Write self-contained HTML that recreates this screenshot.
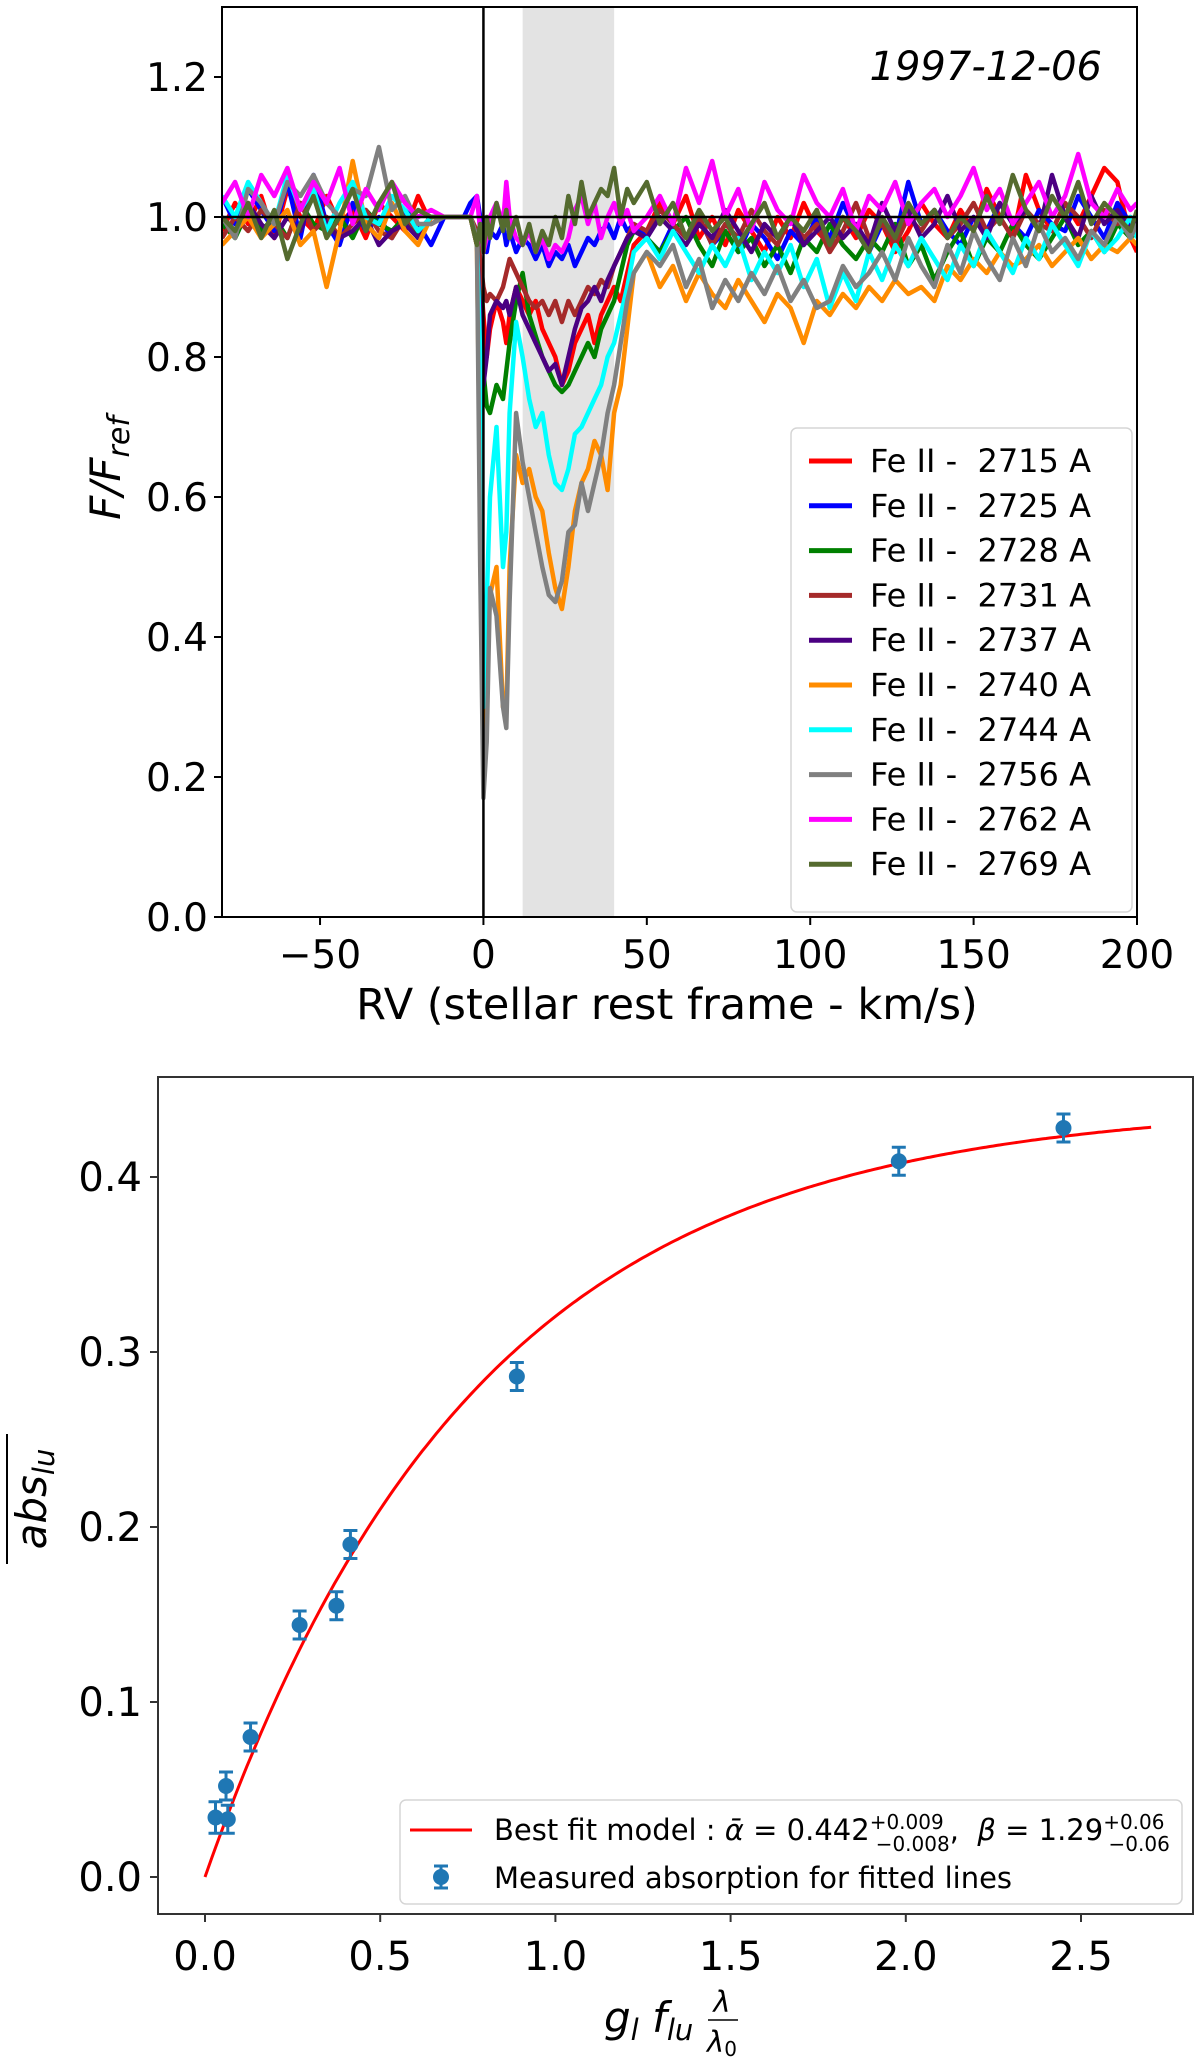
<!DOCTYPE html>
<html><head><meta charset="utf-8"><style>
html,body{margin:0;padding:0;background:#fff;}
svg{display:block;font-family:"DejaVu Sans","Liberation Sans",sans-serif;}
</style></head><body>
<svg id="fig" width="1200" height="2061" viewBox="0 0 1200 2061" xmlns="http://www.w3.org/2000/svg">
<defs>
<clipPath id="clipTop"><rect x="222" y="7" width="915" height="910"/></clipPath>
</defs>
<g id="topPanel"></g>
<g id="botPanel"></g>
</svg>
<script>
// ---------- TOP CHART DATA ----------
const rvPre = [-80,-76,-72,-68,-64,-60,-56,-52,-48,-44,-40,-36,-32,-28,-24,-20,-16];
const rvFlat = [-12,-6];
const rvAbs = [-4,-2,-1,0,1,2,4,6,7,8,10,12,14,16,18,20,22,24,26,28,30,32,34,36,38,40,42,44,46];
const rvPost = [50,54,58,62,66,70,74,78,82,86,90,94,98,102,106,110,114,118,122,126,130,134,138,142,146,150,154,158,162,166,170,174,178,182,186,190,194,198,200];
const lineLabels = ["Fe II -  2715 A","Fe II -  2725 A","Fe II -  2728 A","Fe II -  2731 A","Fe II -  2737 A","Fe II -  2740 A","Fe II -  2744 A","Fe II -  2756 A","Fe II -  2762 A","Fe II -  2769 A"];
const lineColors = ["#ff0000","#0000ff","#008000","#a52a2a","#4b0082","#ff8c00","#00ffff","#808080","#ff00ff","#556b2f"];
const flux2715 = [0.98,1.02,0.99,1.03,0.97,1.04,1.00,0.98,1.03,0.99,1.01,0.97,1.02,1.00,0.98,1.03,0.99, 1,1,
 1.00,0.97,0.92,0.86,0.80,0.84,0.88,0.85,0.82,0.86,0.90,0.88,0.86,0.88,0.84,0.82,0.80,0.76,0.78,0.82,0.84,0.86,0.82,0.86,0.88,0.90,0.88,0.92,0.96,
 0.98,1.02,0.99,1.03,0.97,1.00,0.96,1.01,0.98,0.95,1.00,0.97,1.02,0.98,0.96,1.00,0.97,1.01,0.99,0.95,0.98,1.02,0.99,0.97,1.01,0.98,1.04,1.00,0.97,1.06,1.01,0.98,1.02,0.99,1.03,1.07,1.05,0.97,0.95];
const flux2725 = [1.03,0.99,1.04,1.01,0.98,1.05,0.97,1.06,0.99,0.96,1.02,0.98,1.00,0.97,1.01,0.99,0.96, 1,1,
 1.02,1.03,1.00,0.96,0.95,0.98,0.97,0.99,0.96,0.98,0.95,0.97,0.96,0.94,0.96,0.93,0.95,0.94,0.96,0.93,0.95,0.97,0.96,0.98,0.99,0.97,1.00,0.98,0.99,
 0.97,0.95,0.99,0.97,1.00,0.96,0.98,0.95,0.99,0.97,0.94,0.98,0.96,1.00,0.97,1.02,0.98,0.95,0.99,0.97,1.05,0.99,1.01,0.98,0.96,1.00,0.98,1.02,0.99,0.97,1.01,0.99,0.98,1.03,1.00,0.97,1.02,0.99,1.00];
const flux2728 = [0.99,0.97,1.01,0.98,1.00,0.97,1.02,0.99,0.98,1.00,0.97,1.01,0.99,0.98,1.00,0.97,1.00, 1,1,
 1.00,0.96,0.88,0.78,0.73,0.72,0.76,0.74,0.78,0.82,0.88,0.92,0.86,0.83,0.80,0.78,0.76,0.75,0.76,0.78,0.80,0.82,0.80,0.84,0.86,0.88,0.92,0.96,0.98,
 0.97,0.95,0.98,1.00,0.96,0.93,0.98,0.95,0.97,0.93,0.96,0.92,0.97,0.95,0.99,0.96,0.94,0.97,0.95,0.99,0.93,0.96,0.91,0.95,0.98,0.93,0.97,0.95,0.99,0.96,0.94,0.97,1.00,0.96,0.98,0.95,0.99,0.97,0.98];
const flux2731 = [0.97,1.00,0.98,1.01,0.99,0.97,1.02,0.98,1.00,0.97,0.99,1.01,0.98,0.97,1.00,0.98,1.00, 1,1,
 1.00,0.98,0.94,0.90,0.88,0.89,0.88,0.90,0.92,0.94,0.92,0.90,0.88,0.87,0.88,0.86,0.88,0.85,0.88,0.86,0.88,0.90,0.89,0.91,0.90,0.93,0.95,0.97,0.99,
 0.98,1.01,0.99,0.97,1.00,0.96,0.99,0.97,1.01,0.98,0.96,1.00,0.97,0.99,0.95,0.98,1.02,0.97,0.99,0.96,1.00,0.98,1.01,0.97,0.99,1.02,0.98,1.00,0.97,1.01,0.99,0.98,1.02,1.00,0.97,1.01,0.99,1.00,0.98];
const flux2737 = [1.00,0.98,1.02,0.99,0.97,1.00,0.98,1.04,0.99,0.97,0.98,1.00,0.96,0.98,0.99,0.97,1.00, 1,1,
 1.00,0.96,0.86,0.76,0.80,0.86,0.88,0.87,0.88,0.86,0.90,0.86,0.84,0.82,0.80,0.78,0.79,0.76,0.80,0.84,0.87,0.88,0.90,0.88,0.91,0.93,0.95,0.97,0.98,
 0.97,1.00,0.98,0.96,0.99,0.97,1.01,0.98,0.95,0.99,0.97,1.00,0.96,0.98,1.00,0.97,0.99,0.96,1.02,0.98,1.01,0.97,0.99,1.03,0.98,1.00,0.97,1.02,0.99,1.01,0.98,1.06,1.00,0.97,1.03,0.99,1.01,0.98,1.00];
const flux2740 = [0.96,0.98,1.00,0.97,0.99,1.01,0.96,0.98,0.90,0.98,1.08,0.99,0.97,1.02,0.98,0.96,1.00, 1,1,
 1.00,0.96,0.60,0.21,0.35,0.46,0.50,0.30,0.29,0.50,0.66,0.62,0.64,0.60,0.58,0.52,0.47,0.44,0.50,0.58,0.62,0.64,0.68,0.66,0.61,0.72,0.76,0.84,0.92,
 0.95,0.90,0.93,0.88,0.92,0.89,0.87,0.91,0.88,0.85,0.89,0.87,0.82,0.88,0.86,0.89,0.87,0.90,0.88,0.91,0.89,0.90,0.88,0.93,0.91,0.94,0.92,0.95,0.93,0.94,0.96,0.93,0.95,0.97,0.94,0.96,0.95,0.97,0.96];
const flux2744 = [1.03,1.00,1.05,1.02,0.99,1.06,1.01,1.04,0.98,1.02,1.05,1.00,0.99,1.03,1.01,0.98,1.00, 1,1,
 1.00,0.97,0.80,0.30,0.45,0.60,0.70,0.50,0.55,0.72,0.85,0.80,0.74,0.70,0.72,0.66,0.62,0.61,0.64,0.69,0.70,0.72,0.74,0.76,0.80,0.82,0.86,0.90,0.95,
 0.97,0.94,0.98,0.95,0.92,0.96,0.93,0.97,0.91,0.95,0.92,0.96,0.90,0.94,0.87,0.92,0.88,0.95,0.91,0.96,0.93,0.97,0.94,0.91,0.96,0.93,0.98,0.95,0.92,0.97,0.94,0.99,0.96,0.93,0.98,0.95,0.97,1.00,0.97];
const flux2756 = [1.00,0.97,1.04,1.02,0.99,1.05,1.03,1.06,1.02,1.00,1.04,1.03,1.10,1.01,1.03,0.99,0.99, 1,1,
 1.00,0.97,0.50,0.17,0.25,0.47,0.43,0.30,0.27,0.45,0.72,0.65,0.60,0.55,0.50,0.46,0.45,0.48,0.55,0.56,0.62,0.58,0.62,0.66,0.72,0.76,0.82,0.88,0.92,
 0.95,0.93,0.96,0.90,0.94,0.87,0.91,0.88,0.92,0.89,0.93,0.88,0.91,0.87,0.88,0.93,0.90,0.92,0.95,0.91,0.97,0.93,0.90,0.96,0.92,0.98,0.94,0.91,0.97,0.93,0.99,0.95,0.97,0.94,0.98,0.96,1.00,0.97,0.99];
const flux2762 = [1.02,1.05,1.00,1.06,1.03,1.07,1.01,1.05,1.02,1.07,0.99,1.04,1.01,1.05,1.02,1.00,1.01, 1,1,
 1.00,1.03,0.98,0.95,0.97,1.00,1.02,0.99,1.05,1.00,0.97,0.96,0.98,0.95,0.97,0.94,0.96,0.95,0.97,1.01,1.03,0.99,1.02,0.97,1.00,1.02,0.99,1.01,0.98,
 1.00,1.03,0.99,1.07,1.02,1.08,1.00,1.04,0.98,1.05,1.01,0.99,1.06,1.02,1.00,1.04,0.98,1.03,1.01,1.05,0.99,1.02,1.04,1.00,1.03,1.07,1.01,1.04,0.99,1.02,1.05,1.00,1.03,1.09,1.02,1.00,1.04,1.01,1.02];
const flux2769 = [1.00,0.98,1.02,0.97,1.01,0.94,0.99,1.03,0.97,1.00,1.04,0.98,1.02,1.05,0.99,1.01,1.00, 1,1,
 1.00,0.96,0.99,0.95,1.00,0.97,1.02,0.98,1.01,0.97,1.00,0.96,0.99,0.95,0.98,0.96,1.00,0.97,1.03,0.99,1.05,1.00,1.02,1.04,1.03,1.07,1.00,1.04,1.02,
 1.05,0.99,1.02,0.97,1.01,0.98,1.00,0.96,0.99,1.02,0.97,1.00,0.98,1.01,0.96,1.00,0.98,0.95,1.00,0.97,1.02,0.99,1.01,0.97,1.00,0.98,1.03,0.99,1.06,1.01,0.98,1.03,1.00,1.05,0.99,1.02,1.00,0.98,1.01];
const fluxSeries = [flux2715,flux2725,flux2728,flux2731,flux2737,flux2740,flux2744,flux2756,flux2762,flux2769];
const rvTicks = [-50,0,50,100,150,200];
const rvTickLabels = ["\u221250","0","50","100","150","200"];
const fluxTicks = [0,0.2,0.4,0.6,0.8,1.0,1.2];
const fluxTickLabels = ["0.0","0.2","0.4","0.6","0.8","1.0","1.2"];
const shadeRange = [12,40];

// ---------- BOTTOM CHART DATA ----------
const gfX = [0.03,0.06,0.065,0.13,0.27,0.375,0.415,0.89,1.98,2.45];
const absY = [0.034,0.052,0.033,0.080,0.144,0.155,0.190,0.286,0.409,0.428];
const absErr = [0.009,0.008,0.008,0.008,0.008,0.008,0.008,0.008,0.008,0.008];
const fitAlpha = [0.442];
const fitBeta = [1.29];
const gfTicks = [0,0.5,1.0,1.5,2.0,2.5];
const gfTickLabels = ["0.0","0.5","1.0","1.5","2.0","2.5"];
const absTicks = [0,0.1,0.2,0.3,0.4];
const absTickLabels = ["0.0","0.1","0.2","0.3","0.4"];

const SVGNS="http://www.w3.org/2000/svg";
function mk(tag, attrs, parent){const e=document.createElementNS(SVGNS,tag);for(const k in attrs)e.setAttribute(k,attrs[k]);parent.appendChild(e);return e;}

(function(){
const T={L:222,R:1137,Tp:7,B:917,x0:-80,x1:200,y0:0,y1:1.3};
const tx=v=>T.L+(v-T.x0)/(T.x1-T.x0)*(T.R-T.L);
const ty=v=>T.B-(v-T.y0)/(T.y1-T.y0)*(T.B-T.Tp);
const topG=document.getElementById('topPanel');
const shade=mk('rect',{x:tx(shadeRange[0]),y:T.Tp,width:tx(shadeRange[1])-tx(shadeRange[0]),height:T.B-T.Tp,fill:'#e3e3e3'},topG);


const rvAll=rvPre.concat(rvFlat,rvAbs,rvPost);
const lg=mk('g',{'clip-path':'url(#clipTop)'},topG);
fluxSeries.forEach((s,i)=>{
  const d=s.map((v,j)=>(j?'L':'M')+tx(rvAll[j]).toFixed(1)+' '+ty(v).toFixed(1)).join(' ');
  const p=mk('path',{d:d,fill:'none',stroke:lineColors[i],'stroke-width':4.5,'stroke-linejoin':'round'},lg);
  
  
});
const vz=mk('line',{x1:tx(0),x2:tx(0),y1:T.Tp,y2:T.B,stroke:'#000','stroke-width':2.5},topG);


const hz=mk('line',{x1:T.L,x2:T.R,y1:ty(1),y2:ty(1),stroke:'#000','stroke-width':2.5},topG);


const fr=mk('rect',{x:T.L,y:T.Tp,width:T.R-T.L,height:T.B-T.Tp,fill:'none',stroke:'#000','stroke-width':2},topG);


rvTicks.forEach((v,i)=>{
  mk('line',{x1:tx(v),x2:tx(v),y1:T.B,y2:T.B+8,stroke:'#000','stroke-width':2},topG);
  const t=mk('text',{x:tx(v),y:T.B+51,'font-size':39,'text-anchor':'middle'},topG);t.textContent=rvTickLabels[i];
  
  
});
fluxTicks.forEach((v,i)=>{
  mk('line',{x1:T.L-8,x2:T.L,y1:ty(v),y2:ty(v),stroke:'#000','stroke-width':2},topG);
  const t=mk('text',{x:T.L-14,y:ty(v)+14,'font-size':39,'text-anchor':'end'},topG);t.textContent=fluxTickLabels[i];
  
  
});
const lb=mk('rect',{x:791,y:428,width:341,height:484,rx:6,fill:'#fff','fill-opacity':0.85,stroke:'#d5d5d5','stroke-width':1.5},topG);


lineLabels.forEach((lab,i)=>{
  const y=461+i*44.8;
  const g=mk('g',{},topG);
  
  
  mk('line',{x1:809,x2:852,y1:y,y2:y,stroke:lineColors[i],'stroke-width':5},g);
  const t=mk('text',{x:870,y:y+11,'font-size':32,style:'white-space:pre'},g);t.textContent=lab;
});
const d=mk('text',{x:1102,y:80,'font-size':40,'font-style':'italic','text-anchor':'end'},topG);
d.textContent='1997-12-06';


const xl=mk('text',{x:667,y:1019,'font-size':43,'text-anchor':'middle'},topG);
xl.textContent='RV (stellar rest frame - km/s)';


const yl=mk('text',{x:0,y:0,'font-size':42,'font-style':'italic','text-anchor':'middle',transform:'translate(120,468) rotate(-90)'},topG);
yl.innerHTML='F/F<tspan font-size="30" dy="9">ref</tspan>';


})();

(function(){
const Bx={L:158,R:1193,Tp:1077,B:1914};
const bx=v=>205+v*350.4;
const by=v=>1877-v*1750;
const bot=document.getElementById('botPanel');
const pts=[];
for(let k=0;k<=270;k++){const x=k/100;pts.push((k?'L':'M')+bx(x).toFixed(1)+' '+by(fitAlpha[0]*(1-Math.exp(-fitBeta[0]*x))).toFixed(1));}
const fc=mk('path',{d:pts.join(' '),fill:'none',stroke:'#ff0000','stroke-width':3},bot);


gfX.forEach((x,i)=>{
  const g=mk('g',{},bot);
  
  
  const cx=bx(x),y1=by(absY[i]-absErr[i]),y2=by(absY[i]+absErr[i]);
  mk('line',{x1:cx,x2:cx,y1:y1,y2:y2,stroke:'#1f77b4','stroke-width':3},g);
  mk('line',{x1:cx-7,x2:cx+7,y1:y1,y2:y1,stroke:'#1f77b4','stroke-width':3},g);
  mk('line',{x1:cx-7,x2:cx+7,y1:y2,y2:y2,stroke:'#1f77b4','stroke-width':3},g);
  mk('circle',{cx:cx,cy:by(absY[i]),r:8,fill:'#1f77b4'},g);
});
const fr=mk('rect',{x:Bx.L,y:Bx.Tp,width:Bx.R-Bx.L,height:Bx.B-Bx.Tp,fill:'none',stroke:'#333','stroke-width':2},bot);


gfTicks.forEach((v,i)=>{
  mk('line',{x1:bx(v),x2:bx(v),y1:Bx.B,y2:Bx.B+8,stroke:'#333','stroke-width':2},bot);
  const t=mk('text',{x:bx(v),y:1970,'font-size':40,'text-anchor':'middle'},bot);t.textContent=gfTickLabels[i];
  
  
});
absTicks.forEach((v,i)=>{
  mk('line',{x1:Bx.L-8,x2:Bx.L,y1:by(v),y2:by(v),stroke:'#333','stroke-width':2},bot);
  const t=mk('text',{x:Bx.L-16,y:by(v)+14,'font-size':40,'text-anchor':'end'},bot);t.textContent=absTickLabels[i];
  
  
});
const lb=mk('rect',{x:400,y:1800,width:782,height:104,rx:6,fill:'#fff','fill-opacity':0.85,stroke:'#d5d5d5','stroke-width':1.5},bot);


const l1=mk('g',{},bot);


mk('line',{x1:410,x2:472,y1:1830,y2:1830,stroke:'#ff0000','stroke-width':3},l1);
const t1=mk('text',{x:494,y:1840,'font-size':29,style:'white-space:pre'},l1);
t1.innerHTML='Best fit model : <tspan font-style="italic">ᾱ</tspan> = 0.442<tspan font-size="20" dy="-11">+0.009</tspan><tspan font-size="20" dx="-68" dy="22">−0.008</tspan><tspan dy="-11">,  </tspan><tspan font-style="italic">β</tspan> = 1.29<tspan font-size="20" dy="-11">+0.06</tspan><tspan font-size="20" dx="-56" dy="22">−0.06</tspan>';
const l2=mk('g',{},bot);


mk('line',{x1:441,x2:441,y1:1866,y2:1888,stroke:'#1f77b4','stroke-width':3},l2);
mk('line',{x1:434,x2:448,y1:1866,y2:1866,stroke:'#1f77b4','stroke-width':3},l2);
mk('line',{x1:434,x2:448,y1:1888,y2:1888,stroke:'#1f77b4','stroke-width':3},l2);
mk('circle',{cx:441,cy:1877,r:8,fill:'#1f77b4'},l2);
const t2=mk('text',{x:494,y:1888,'font-size':29},l2);t2.textContent='Measured absorption for fitted lines';
const xl=mk('text',{x:604,y:2032,'font-size':42,'font-style':'italic'},bot);
xl.innerHTML='g<tspan font-size="29" dy="8">l</tspan><tspan dy="-8"> f</tspan><tspan font-size="29" dy="8">lu</tspan>';


const fn=mk('text',{x:722,y:2012,'font-size':29,'font-style':'italic','text-anchor':'middle'},bot);fn.textContent='λ';


mk('line',{x1:708,x2:738,y1:2020,y2:2020,stroke:'#000','stroke-width':1.5},bot);
const fd=mk('text',{x:722,y:2052,'font-size':29,'font-style':'italic','text-anchor':'middle'},bot);fd.innerHTML='λ<tspan font-size="20" font-style="normal" dy="4">0</tspan>';


const yl=mk('text',{x:0,y:0,'font-size':42,'font-style':'italic','text-anchor':'middle',transform:'translate(46,1499) rotate(-90)'},bot);
yl.innerHTML='abs<tspan font-size="29" dy="8">lu</tspan>';


const ov=mk('line',{x1:7,x2:7,y1:1434,y2:1564,stroke:'#000','stroke-width':2},bot);


})();
</script>
</body></html>
